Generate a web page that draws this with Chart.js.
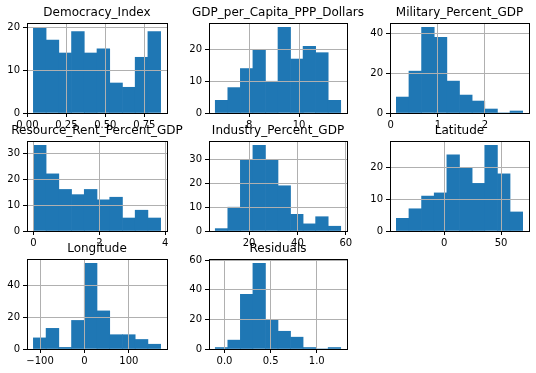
<!DOCTYPE html>
<html>
<head>
<meta charset="utf-8">
<script src="https://cdn.jsdelivr.net/npm/chart.js@4.4.0/dist/chart.umd.min.js"></script>
<style>
  body { margin: 0; background: #fff; }
  #fig { position: relative; width: 536px; height: 373px; overflow: hidden; background: #fff; }
  #fig canvas { position: absolute; }
</style>
</head>
<body>
<div id="fig"></div>
<script>
// counts per bin (10 bins) and first / last bin edge
var democracyCounts = [20, 17, 14, 19, 14, 15, 7, 6, 13, 19];
var democracyEdges = [0.038, 0.855];
var gdpCounts = [4, 8, 14, 20, 10, 27, 17, 21, 19, 4];
var gdpEdges = [6.64, 11.67];
var militaryCounts = [8, 21, 43, 38, 16, 9, 6, 2, 0, 1];
var militaryEdges = [0.12, 2.80];
var resourceCounts = [33, 22, 16, 14, 16, 12, 13, 5, 8, 5];
var resourceEdges = [0.0, 3.86];
var industryCounts = [1, 10, 30, 36, 30, 19, 7, 3, 6, 2];
var industryEdges = [6.0, 57.9];
var latitudeCounts = [4, 7, 11, 12, 24, 20, 15, 27, 18, 6];
var latitudeEdges = [-42, 69];
var longitudeCounts = [7, 13, 1, 18, 54, 24, 9, 9, 6, 3];
var longitudeEdges = [-115, 171.5];
var residualCounts = [1, 6, 37, 58, 20, 12, 8, 1, 0, 1];
var residualEdges = [-0.10, 1.26];

// tick values and labels
var democracyXTicks = [0, 0.25, 0.5, 0.75];
var democracyXLabels = ['0.00', '0.25', '0.50', '0.75'];
var democracyYTicks = [0, 10, 20];
var gdpXTicks = [8, 10];
var gdpXLabels = ['8', '10'];
var gdpYTicks = [0, 10, 20];
var militaryXTicks = [0, 1, 2];
var militaryXLabels = ['0', '1', '2'];
var militaryYTicks = [0, 20, 40];
var resourceXTicks = [0, 2, 4];
var resourceXLabels = ['0', '2', '4'];
var resourceYTicks = [0, 10, 20, 30];
var industryXTicks = [20, 40, 60];
var industryXLabels = ['20', '40', '60'];
var industryYTicks = [0, 10, 20, 30];
var latitudeXTicks = [0, 50];
var latitudeXLabels = ['0', '50'];
var latitudeYTicks = [0, 10, 20];
var longitudeXTicks = [-100, 0, 100];
var longitudeXLabels = ['\u2212100', '0', '100'];
var longitudeYTicks = [0, 20, 40];
var residualXTicks = [0, 0.5, 1];
var residualXLabels = ['0.0', '0.5', '1.0'];
var residualYTicks = [0, 20, 40, 60];

var panels = [
  {title: 'Democracy_Index', counts: democracyCounts, edges: democracyEdges, xt: democracyXTicks, xl: democracyXLabels, yt: democracyYTicks, col: 0, row: 0},
  {title: 'GDP_per_Capita_PPP_Dollars', counts: gdpCounts, edges: gdpEdges, xt: gdpXTicks, xl: gdpXLabels, yt: gdpYTicks, col: 1, row: 0},
  {title: 'Military_Percent_GDP', counts: militaryCounts, edges: militaryEdges, xt: militaryXTicks, xl: militaryXLabels, yt: militaryYTicks, col: 2, row: 0},
  {title: 'Resource_Rent_Percent_GDP', counts: resourceCounts, edges: resourceEdges, xt: resourceXTicks, xl: resourceXLabels, yt: resourceYTicks, col: 0, row: 1},
  {title: 'Industry_Percent_GDP', counts: industryCounts, edges: industryEdges, xt: industryXTicks, xl: industryXLabels, yt: industryYTicks, col: 1, row: 1},
  {title: 'Latitude', counts: latitudeCounts, edges: latitudeEdges, xt: latitudeXTicks, xl: latitudeXLabels, yt: latitudeYTicks, col: 2, row: 1},
  {title: 'Longitude', counts: longitudeCounts, edges: longitudeEdges, xt: longitudeXTicks, xl: longitudeXLabels, yt: longitudeYTicks, col: 0, row: 2},
  {title: 'Residuals', counts: residualCounts, edges: residualEdges, xt: residualXTicks, xl: residualXLabels, yt: residualYTicks, col: 1, row: 2}
];

// axes boxes in the figure
var colLeft = [27, 209, 390];
var colWidth = [140, 138, 139];
var rowTop = [23, 141, 259];
var rowHeight = 90;

Chart.defaults.font.family = 'DejaVu Sans';
Chart.defaults.font.size = 10;
Chart.defaults.color = '#000';

// black box round the plot area like matplotlib spines
var frame = {
  id: 'frame',
  afterDraw: function(chart) {
    var a = chart.chartArea, ctx = chart.ctx;
    ctx.save();
    ctx.strokeStyle = '#000';
    ctx.lineWidth = 1;
    ctx.strokeRect(Math.round(a.left) + 0.5, Math.round(a.top) + 0.5,
      Math.round(a.right) - Math.round(a.left), Math.round(a.bottom) - Math.round(a.top));
    ctx.restore();
  }
};

var fig = document.getElementById('fig');

panels.forEach(function(p) {
  var axL = colLeft[p.col], axT = rowTop[p.row], axW = colWidth[p.col], axH = rowHeight;
  var canvas = document.createElement('canvas');
  canvas.width = axW + 80;
  canvas.height = axH + 48;
  canvas.style.left = (axL - 40) + 'px';
  canvas.style.top = (axT - 24) + 'px';
  fig.appendChild(canvas);

  var n = p.counts.length;
  var span = p.edges[1] - p.edges[0];
  var pts = p.counts.map(function(c, i) {
    return {x: p.edges[0] + (i + 0.5) * span / n, y: c};
  });
  var ymax = Math.max.apply(null, p.counts) * 1.05;

  new Chart(canvas, {
    type: 'bar',
    data: {
      datasets: [{
        data: pts,
        xAxisID: 'x',
        yAxisID: 'y',
        backgroundColor: '#1f77b4',
        borderWidth: 0,
        barPercentage: 1,
        categoryPercentage: 1
      }]
    },
    options: {
      responsive: false,
      animation: false,
      devicePixelRatio: 1,
      layout: {padding: 0},
      plugins: {
        legend: {display: false},
        tooltip: {enabled: false},
        title: {
          display: true,
          text: p.title,
          color: '#000',
          font: {size: 12, weight: 'normal', lineHeight: 1.2},
          padding: {top: 6.6, bottom: 3}
        }
      },
      scales: {
        x: {
          type: 'linear',
          min: p.edges[0] - 0.05 * span,
          max: p.edges[1] + 0.05 * span,
          offset: false,
          grid: {offset: false, color: '#b0b0b0', z: 1, tickColor: '#000', tickLength: 4},
          border: {display: false},
          ticks: {
            autoSkip: false, maxRotation: 0, padding: 2,
            callback: function(v, i) { return p.xl[i]; }
          },
          afterBuildTicks: function(s) { s.ticks = p.xt.map(function(v) { return {value: v}; }); },
          afterFit: function(s) { s.height = 24; }
        },
        y: {
          type: 'linear',
          min: 0,
          max: ymax,
          grid: {color: '#b0b0b0', z: 1, tickColor: '#000', tickLength: 4},
          border: {display: false},
          ticks: {padding: 3, callback: function(v) { return String(v); }},
          afterBuildTicks: function(s) { s.ticks = p.yt.map(function(v) { return {value: v}; }); },
          afterFit: function(s) { s.width = 40; }
        },
        yr: {
          type: 'linear',
          position: 'right',
          min: 0,
          max: 1,
          grid: {display: false},
          border: {display: false},
          ticks: {display: false},
          afterFit: function(s) { s.width = 40; }
        }
      }
    },
    plugins: [frame]
  });
});
</script>
</body>
</html>
